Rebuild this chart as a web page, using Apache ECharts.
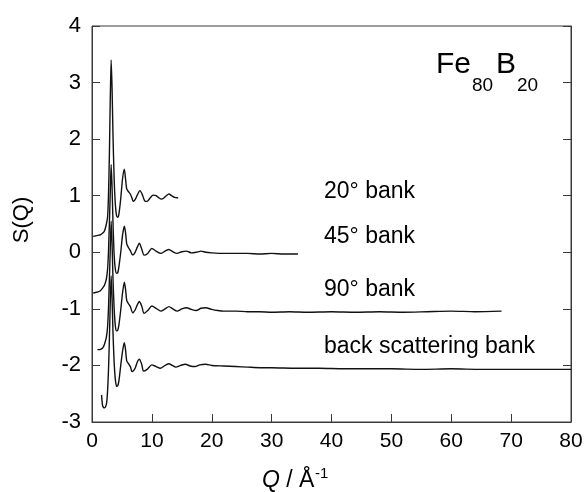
<!DOCTYPE html>
<html>
<head>
  <meta charset="utf-8" />
  <title>Fe80B20 S(Q)</title>
  <script src="https://cdn.jsdelivr.net/npm/echarts@6/dist/echarts.min.js"></script>
</head>
<body style="margin:0">
  <div id="chart" style="width:587px;height:492px;"></div>
  <script type="text/javascript">

    // 20 degree bank (plotted as is)
    let q20 = [0.2, 0.6, 1.0, 1.4, 1.8, 2.1, 2.4, 2.6, 2.75, 2.9, 3.05, 3.2, 3.35, 3.5, 3.7, 3.9, 4.1, 4.3,
      4.5, 4.8, 5.1, 5.4, 5.6, 5.8, 6.1, 6.4, 6.7, 6.9, 7.2, 7.6, 8.0, 8.4, 8.8, 9.2, 9.7, 10.2, 10.7,
      11.2, 11.6, 12.0, 12.4, 12.85, 13.3, 13.8, 14.4];
    let s20 = [0.28, 0.29, 0.30, 0.31, 0.34, 0.38, 0.5, 0.62, 1.0, 1.7, 2.7, 3.4, 2.9, 2.1, 1.3, 0.85, 0.65, 0.62,
      0.68, 0.95, 1.3, 1.47, 1.3, 1.12, 1.07, 1.03, 0.95, 0.9, 0.93, 1.02, 1.09, 1.02, 0.91, 0.9, 0.96, 1.01, 1.0,
      0.96, 0.94, 0.96, 1.0, 1.03, 1.0, 0.97, 0.96];

    // 45 degree bank (shifted by -1)
    let q45 = [0.2, 0.6, 1.0, 1.4, 1.8, 2.1, 2.4, 2.6, 2.75, 2.9, 3.05, 3.2, 3.35, 3.5, 3.7, 3.9, 4.1, 4.3,
      4.5, 4.8, 5.1, 5.4, 5.6, 5.8, 6.1, 6.4, 6.8, 7.2, 7.6, 7.9, 8.3, 8.7, 9.3, 10.0, 10.7, 11.5, 12.2,
      12.85, 13.5, 14.2, 15.0, 15.8, 16.6, 17.4, 18.2, 19.0, 20, 22, 24, 26, 28, 30, 32, 34.4];
    let s45 = [-0.72, -0.71, -0.70, -0.68, -0.63, -0.58, -0.47, -0.3, 0.0, 0.5, 1.05, 1.55, 1.15, 0.55, -0.05, -0.3, -0.37, -0.36,
      -0.25, 0.0, 0.3, 0.46, 0.35, 0.15, 0.08, 0.03, -0.05, 0.0, 0.1, 0.16, 0.06, -0.05, -0.02, 0.07, 0.02, -0.02, 0.02,
      0.05, 0.01, -0.02, 0.01, 0.02, -0.01, 0.0, 0.02, 0.0, -0.01, -0.02, -0.02, -0.02, -0.03, -0.02, -0.03, -0.03];

    // 90 degree bank (shifted by -2)
    let q90 = [0.9, 1.2, 1.5, 1.8, 2.1, 2.4, 2.6, 2.75, 2.9, 3.05, 3.2, 3.35, 3.5, 3.7, 3.9, 4.1, 4.3, 4.5,
      4.8, 5.1, 5.4, 5.6, 5.8, 6.1, 6.4, 6.8, 7.2, 7.6, 7.9, 8.3, 8.7, 9.3, 10.0, 10.7, 11.5, 12.2, 12.85,
      13.5, 14.2, 15.0, 15.8, 16.6, 17.4, 18.2, 19.0, 20, 21, 22, 24, 26, 28, 30, 33, 36, 40, 44, 48, 52,
      56, 60, 64, 68.4];
    let s90 = [-1.72, -1.72, -1.71, -1.69, -1.62, -1.5, -1.32, -1.0, -0.5, 0.05, 0.55, 0.15, -0.45, -1.0, -1.3, -1.39, -1.38, -1.28,
      -1.02, -0.72, -0.53, -0.65, -0.85, -0.91, -0.96, -1.07, -1.02, -0.92, -0.87, -0.95, -1.08, -1.03, -0.95, -0.99, -1.04, -1.0, -0.96,
      -1.0, -1.04, -1.0, -0.98, -1.01, -1.03, -0.99, -0.98, -1.01, -1.03, -1.04, -1.04, -1.05, -1.05, -1.06, -1.05, -1.06, -1.05, -1.06, -1.05, -1.06,
      -1.05, -1.04, -1.05, -1.04];

    // back scattering bank (shifted by -3)
    let qBack = [1.6, 1.75, 1.9, 2.1, 2.3, 2.45, 2.6, 2.75, 2.9, 3.05, 3.2, 3.35, 3.5, 3.7, 3.9, 4.1, 4.3, 4.5,
      4.8, 5.1, 5.4, 5.6, 5.8, 6.1, 6.4, 6.7, 7.2, 7.6, 7.9, 8.3, 8.6, 9.2, 10.0, 10.7, 11.4, 12.2, 12.85,
      13.4, 14.0, 14.8, 15.6, 16.4, 17.2, 18.0, 19, 20, 22, 24, 26, 28, 30, 34, 38, 42, 46, 50, 55, 60,
      65, 70, 75, 80];
    let sBack = [-2.52, -2.70, -2.74, -2.75, -2.72, -2.66, -2.45, -2.1, -1.55, -0.9, -0.42, -0.8, -1.4, -1.95, -2.25, -2.37, -2.36, -2.27,
      -2.0, -1.75, -1.6, -1.72, -1.92, -1.97, -2.02, -2.11, -2.05, -1.93, -1.89, -1.98, -2.1, -2.07, -1.99, -2.02, -2.05, -2.0, -1.97,
      -2.0, -2.03, -2.0, -1.98, -2.01, -2.02, -1.99, -1.98, -2.0, -2.01, -2.02, -2.03, -2.04, -2.04, -2.05, -2.05, -2.06, -2.06, -2.06, -2.07, -2.06,
      -2.07, -2.07, -2.07, -2.07];

    let bankLabels = ['20° bank', '45° bank', '90° bank', 'back scattering bank'];

    function pairs(xs, ys) {
      return xs.map(function (x, i) { return [x, ys[i]]; });
    }

    var chart = echarts.init(document.getElementById('chart'));
    var font = 'Liberation Sans, Arial, sans-serif';
    var lineStyle = { color: '#111', width: 1.4 };

    function bank(name, xs, ys) {
      return {
        name: name,
        type: 'line',
        showSymbol: false,
        smooth: 0.25,
        lineStyle: lineStyle,
        data: pairs(xs, ys)
      };
    }

    function label(text, x, y, size, extra) {
      var t = { type: 'text', x: x, y: y, style: { text: text, font: size + 'px ' + font, fill: '#000', verticalAlign: 'middle' } };
      if (extra) Object.assign(t.style, extra);
      return t;
    }

    var option = {
      animation: false,
      grid: { left: 92, right: 16, top: 26, bottom: 70, show: true, borderColor: '#3a3a3a', borderWidth: 1 },
      xAxis: [{
        type: 'value', min: 0, max: 80, interval: 10,
        axisLine: { show: true, onZero: false, lineStyle: { color: '#3a3a3a' } },
        axisTick: { inside: true, length: 8, lineStyle: { color: '#3a3a3a' } },
        axisLabel: { color: '#000', fontSize: 21, fontFamily: font, margin: 9 },
        splitLine: { show: false }
      }],
      yAxis: [{
        type: 'value', min: -3, max: 4, interval: 1,
        axisLine: { show: true, onZero: false, lineStyle: { color: '#3a3a3a' } },
        axisTick: { inside: true, length: 8, lineStyle: { color: '#3a3a3a' } },
        axisLabel: { color: '#000', fontSize: 22, fontFamily: font, margin: 11 },
        splitLine: { show: false }
      }, {
        type: 'value', min: -3, max: 4, interval: 1, position: 'right',
        axisLine: { show: true, onZero: false, lineStyle: { color: '#3a3a3a' } },
        axisTick: { inside: true, length: 8, lineStyle: { color: '#3a3a3a' } },
        axisLabel: { show: false },
        splitLine: { show: false }
      }],
      series: [
        bank(bankLabels[0], q20, s20),
        bank(bankLabels[1], q45, s45),
        bank(bankLabels[2], q90, s90),
        bank(bankLabels[3], qBack, sBack)
      ],
      graphic: [
        label(bankLabels[0], 324, 192, 23),
        label(bankLabels[1], 324, 237, 23),
        label(bankLabels[2], 324, 290, 23),
        label(bankLabels[3], 324, 347, 23),
        label('Fe', 436, 65, 30),
        label('80', 472, 86, 19),
        label('B', 496, 65, 30),
        label('20', 517, 86, 19),
        label('S(Q)', 22, 220, 22, { align: 'center' }),
        label('{i|Q} / Å', 262, 481, 23, { rich: { i: { fontStyle: 'italic', fontSize: 23, fontFamily: font } } }),
        label('-1', 315, 474, 15)
      ]
    };
    // rotate the y axis title
    option.graphic[8].rotation = Math.PI / 2;

    chart.setOption(option);
  </script>
</body>
</html>
